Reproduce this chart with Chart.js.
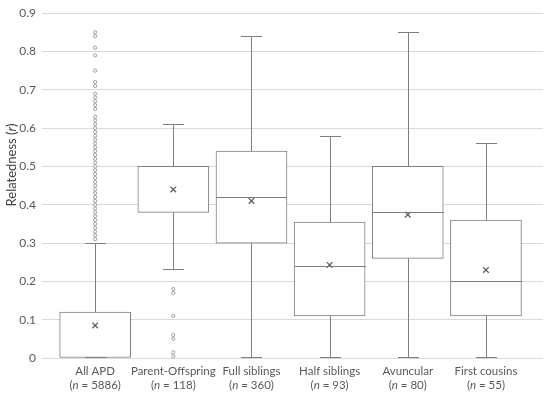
<!DOCTYPE html>
<html>
<head>
<meta charset="utf-8">
<script src="https://cdn.jsdelivr.net/npm/chart.js@4.4.1/dist/chart.umd.min.js"></script>
<style>
html,body{margin:0;padding:0;background:#fff;}
#wrap{width:550px;height:393px;}
</style>
</head>
<body>
<div id="wrap"><canvas id="c" width="550" height="393"></canvas></div>
<script>
// ---- data ----
const categories = ['All APD', 'Parent-Offspring', 'Full siblings', 'Half siblings', 'Avuncular', 'First cousins'];
const sampleSizes = [5886, 118, 360, 93, 80, 55];
const whiskerMin = [0, 0.23, 0, 0, 0, 0];
const q1 = [0, 0.38, 0.30, 0.11, 0.26, 0.11];
const median = [0, 0.50, 0.42, 0.24, 0.38, 0.20];
const q3 = [0.12, 0.50, 0.54, 0.355, 0.50, 0.36];
const whiskerMax = [0.30, 0.61, 0.84, 0.58, 0.85, 0.56];
const means = [0.085, 0.44, 0.41, 0.243, 0.374, 0.23];
const outliersAllAPD = [0.85, 0.84, 0.81, 0.79, 0.75, 0.72, 0.71, 0.69, 0.68, 0.67, 0.66, 0.65,
  0.63, 0.62, 0.61, 0.60, 0.59, 0.58, 0.57, 0.56, 0.55, 0.54, 0.53, 0.52, 0.51, 0.50, 0.49, 0.48,
  0.47, 0.46, 0.45, 0.44, 0.43, 0.42, 0.41, 0.40, 0.39, 0.38, 0.37, 0.36, 0.35, 0.34, 0.33, 0.32, 0.31];
const outliersParentOffspring = [0.18, 0.17, 0.11, 0.06, 0.05, 0.015, 0.005];
const yTicks = [0, 0.1, 0.2, 0.3, 0.4, 0.5, 0.6, 0.7, 0.8, 0.9];
const yTitle = ['Relatedness (', 'r', ')'];

// ---- build datasets ----
const boxData = categories.map((c, i) => ({x: i, y: [q1[i], q3[i]]}));
const meanData = categories.map((c, i) => ({x: i, y: means[i]}));
const outlierData = outliersAllAPD.map(v => ({x: 0, y: v}))
  .concat(outliersParentOffspring.map(v => ({x: 1, y: v})));

const FONT = 'Lato, "Liberation Sans", sans-serif';
const LINE = '#7f7f7f';
const TXT = '#595959';

const boxPlugin = {
  id: 'boxParts',
  afterDatasetsDraw(chart) {
    const ctx = chart.ctx, xs = chart.scales.x, ys = chart.scales.y;
    const capHalf = (xs.getPixelForValue(0.135) - xs.getPixelForValue(0));
    const boxHalf = (xs.getPixelForValue(0.455) - xs.getPixelForValue(0));
    ctx.save();
    ctx.strokeStyle = LINE;
    ctx.lineWidth = 1;
    const crisp = v => Math.round(v) + 0.5;
    const crispIn = v => Math.round(v) - 0.5;
    categories.forEach((c, i) => {
      const cx = crisp(xs.getPixelForValue(i));
      const yMax = crisp(ys.getPixelForValue(whiskerMax[i]));
      const yMin = crispIn(ys.getPixelForValue(whiskerMin[i]));
      const yQ1 = ys.getPixelForValue(q1[i]);
      const yQ3 = ys.getPixelForValue(q3[i]);
      ctx.beginPath();
      ctx.moveTo(cx, yQ3); ctx.lineTo(cx, yMax);
      ctx.moveTo(cx - capHalf, yMax); ctx.lineTo(cx + capHalf, yMax);
      ctx.moveTo(cx, yQ1); ctx.lineTo(cx, yMin);
      ctx.moveTo(cx - capHalf, yMin); ctx.lineTo(cx + capHalf, yMin);
      // median: only drawn where it does not coincide with a box edge
      if (median[i] !== q1[i] && median[i] !== q3[i]) {
        const yMed = crisp(ys.getPixelForValue(median[i]));
        ctx.moveTo(cx - boxHalf, yMed); ctx.lineTo(cx + boxHalf, yMed);
      }
      ctx.stroke();
    });
    ctx.restore();
  },
  afterDraw(chart) {
    const ctx = chart.ctx, xs = chart.scales.x;
    ctx.save();
    ctx.fillStyle = TXT;
    ctx.textBaseline = 'middle';
    const fs = 11.5;
    categories.forEach((c, i) => {
      const cx = xs.getPixelForValue(i);
      ctx.font = fs + 'px ' + FONT;
      ctx.textAlign = 'center';
      ctx.fillText(c, cx, 371);
      const parts = [['(', false], ['n', true], [' = ' + sampleSizes[i] + ')', false]];
      let w = 0;
      parts.forEach(p => { ctx.font = (p[1] ? 'italic ' : '') + fs + 'px ' + FONT; w += ctx.measureText(p[0]).width; });
      let x = cx - w / 2;
      ctx.textAlign = 'left';
      parts.forEach(p => { ctx.font = (p[1] ? 'italic ' : '') + fs + 'px ' + FONT; ctx.fillText(p[0], x, 385); x += ctx.measureText(p[0]).width; });
    });
    ctx.translate(12, 165);
    ctx.rotate(-Math.PI / 2);
    ctx.fillStyle = '#404040';
    const tfs = 13;
    let tw = 0;
    yTitle.forEach((t, k) => { ctx.font = (k === 1 ? 'italic ' : '') + tfs + 'px ' + FONT; tw += ctx.measureText(t).width; });
    let tx = -tw / 2;
    ctx.textAlign = 'left';
    yTitle.forEach((t, k) => { ctx.font = (k === 1 ? 'italic ' : '') + tfs + 'px ' + FONT; ctx.fillText(t, tx, 0); tx += ctx.measureText(t).width; });
    ctx.restore();
  }
};

new Chart(document.getElementById('c'), {
  type: 'bar',
  data: {
    datasets: [
      {
        type: 'bar',
        data: boxData,
        backgroundColor: '#ffffff',
        borderColor: LINE,
        borderWidth: 1,
        borderSkipped: false,
        barThickness: 71,
        order: 3
      },
      {
        type: 'scatter',
        data: outlierData,
        pointStyle: 'circle',
        pointRadius: 1.6,
        pointBorderWidth: 0.8,
        borderColor: '#8a8a8a',
        backgroundColor: '#ffffff',
        order: 2
      },
      {
        type: 'scatter',
        data: meanData,
        pointStyle: 'crossRot',
        pointRadius: 4,
        pointBorderWidth: 1.2,
        borderColor: '#595959',
        backgroundColor: '#595959',
        order: 1
      }
    ]
  },
  options: {
    responsive: false,
    animation: false,
    devicePixelRatio: 1,
    layout: {padding: {top: 1, right: 7, left: 0, bottom: 0}},
    plugins: {legend: {display: false}, tooltip: {enabled: false}},
    scales: {
      x: {
        type: 'linear',
        offset: false,
        min: -0.68,
        max: 5.73,
        grid: {display: false, offset: false},
        border: {display: false},
        ticks: {display: false},
        afterFit(s) { s.height = 35; }
      },
      y: {
        type: 'linear',
        min: 0,
        max: 0.9,
        afterBuildTicks(s) { s.ticks = yTicks.map(v => ({value: v})); },
        ticks: {
          padding: 6,
          color: TXT,
          font: {family: FONT, size: 12},
          callback: v => String(Number(v.toFixed(1)))
        },
        grid: {color: '#d9d9d9', drawTicks: false},
        border: {display: false},
        afterFit(s) { s.width = 42; }
      }
    }
  },
  plugins: [boxPlugin]
});
</script>
</body>
</html>
